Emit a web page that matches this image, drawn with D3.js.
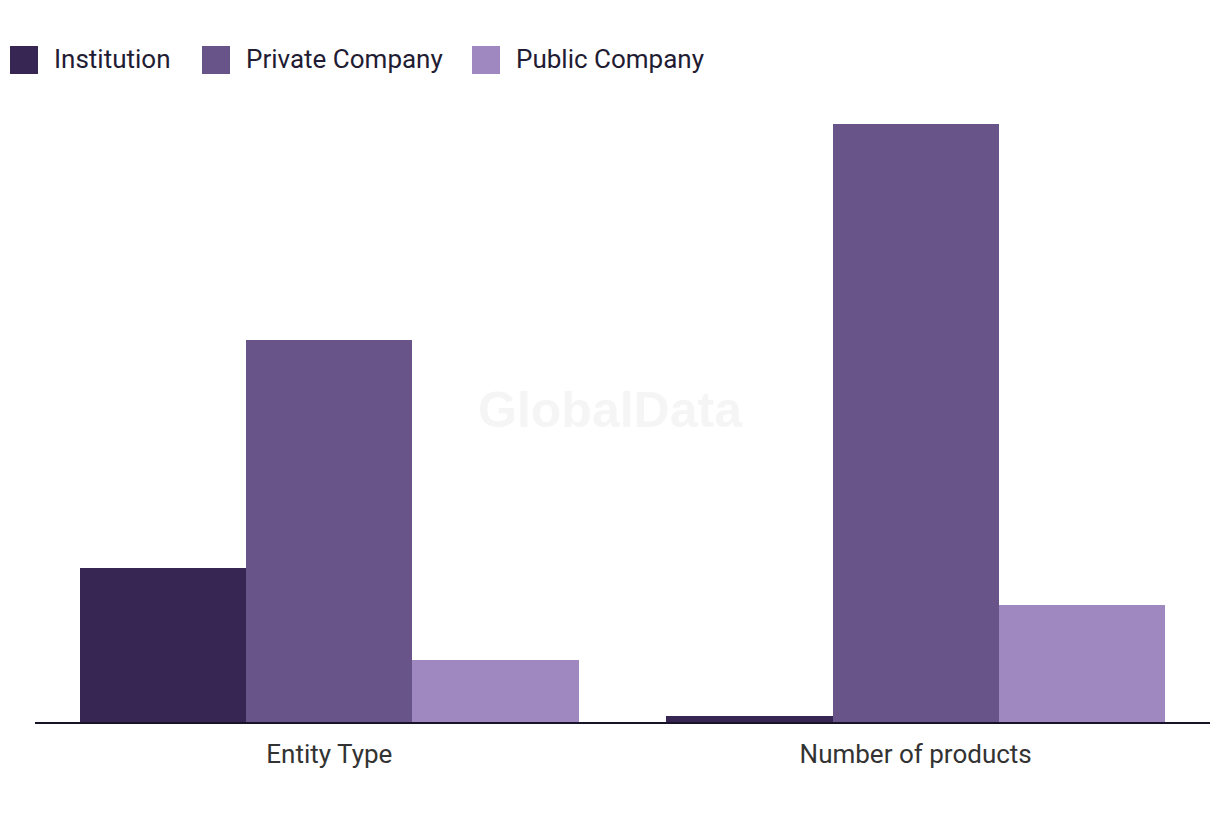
<!DOCTYPE html>
<html>
<head>
<meta charset="utf-8">
<script src="https://cdn.jsdelivr.net/npm/d3@7"></script>
<style>
  html, body { margin: 0; padding: 0; background: #ffffff; }
  svg { display: block; }
</style>
</head>
<body>
<svg id="chart" width="1220" height="820"></svg>
<script>
const categories = ["Entity Type", "Number of products"];
const seriesNames = ["Institution", "Private Company", "Public Company"];
const institution = [25, 1];
const privateCompany = [62, 97];
const publicCompany = [10, 19];
const seriesColors = ["#372654", "#695489", "#9f88c0"];

const seriesValues = [institution, privateCompany, publicCompany];
const data = categories.map((c, i) => ({
  category: c,
  values: seriesNames.map((s, j) => ({ series: s, value: seriesValues[j][i] }))
}));

const svg = d3.select("#chart");
const font = "Roboto, 'Liberation Sans', sans-serif";
const textColor = "#1f1c33";

const baseline = 722;
const x0 = d3.scaleBand().domain(categories).range([35, 1210]).paddingInner(0.15).paddingOuter(0.077);
const x1 = d3.scaleBand().domain(seriesNames).range([0, x0.bandwidth()]).padding(0);
const y = d3.scaleLinear().domain([0, 97]).range([baseline, 124]);
const color = d3.scaleOrdinal().domain(seriesNames).range(seriesColors);

// watermark
svg.append("text")
  .attr("x", 610).attr("y", 427)
  .attr("text-anchor", "middle")
  .attr("font-family", "'Liberation Sans', Arial, sans-serif")
  .attr("font-weight", "bold")
  .attr("font-size", 50)
  .attr("fill", "#f5f5f5")
  .text("GlobalData");

// bars
const groups = svg.append("g").selectAll("g")
  .data(data).join("g")
  .attr("transform", d => `translate(${x0(d.category)},0)`);

groups.selectAll("rect")
  .data(d => d.values).join("rect")
  .attr("x", d => x1(d.series))
  .attr("width", x1.bandwidth())
  .attr("y", d => y(d.value))
  .attr("height", d => baseline - y(d.value))
  .attr("fill", d => color(d.series))
  .attr("shape-rendering", "crispEdges");

// x axis
const xAxis = d3.axisBottom(x0).tickSize(0).tickPadding(23);
const gx = svg.append("g").attr("transform", `translate(0,${baseline})`).call(xAxis);
gx.select(".domain").attr("stroke", "#17142a").attr("stroke-width", 2)
  .attr("d", "M35,1H1210");
gx.selectAll(".tick text")
  .attr("font-family", font)
  .attr("font-size", 26)
  .attr("fill", "#333333");

// legend
const legendX = [10, 202, 472];
const legend = svg.append("g").selectAll("g")
  .data(seriesNames).join("g")
  .attr("transform", (d, i) => `translate(${legendX[i]},46)`);
legend.append("rect")
  .attr("width", 28).attr("height", 28)
  .attr("fill", d => color(d));
legend.append("text")
  .attr("x", 44).attr("y", 22)
  .attr("font-family", font)
  .attr("font-size", 26)
  .attr("fill", textColor)
  .text(d => d);
</script>
</body>
</html>
